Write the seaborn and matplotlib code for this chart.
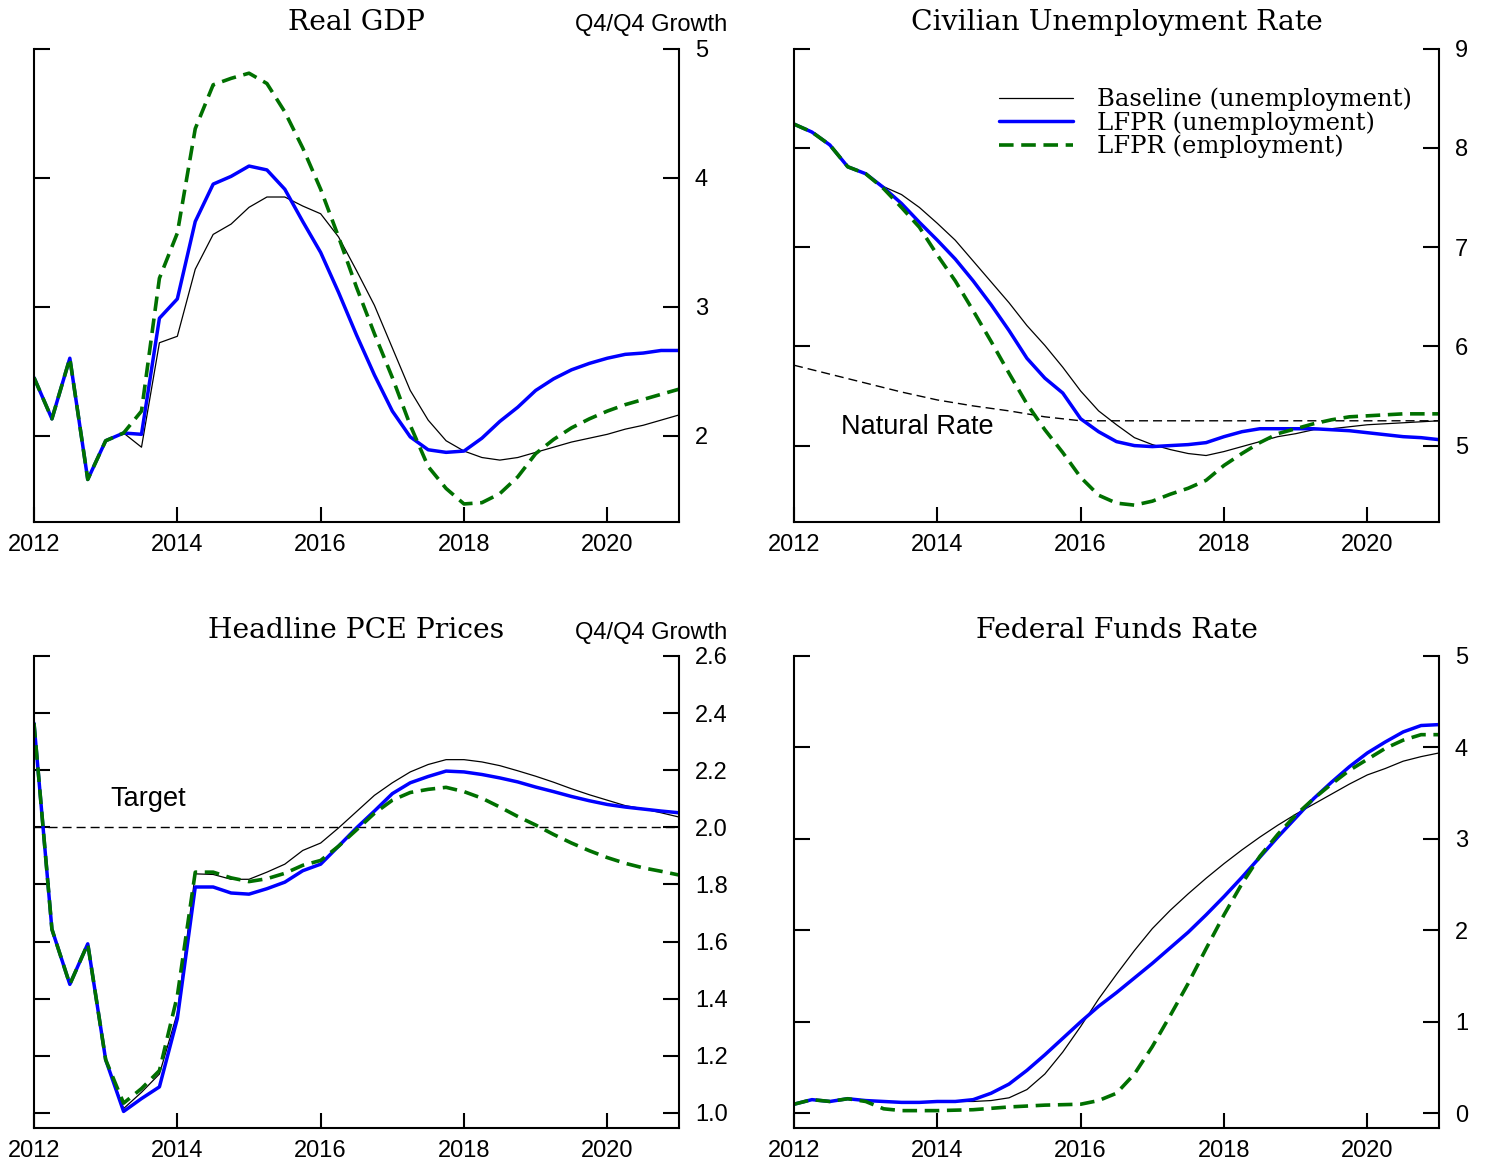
import numpy as np
import matplotlib
matplotlib.use("Agg")
import matplotlib.pyplot as plt
import seaborn as sns
from matplotlib.ticker import FixedLocator, NullLocator

# ---------------- data ----------------
quarters = np.arange(2012.0, 2021.001, 0.25)  # 2012Q1 .. 2021Q1

gdp_base = [2.45, 2.13, 2.60, 1.66, 1.96, 2.02, 1.91, 2.72, 2.77, 3.29,
            3.56, 3.64, 3.77, 3.85, 3.85, 3.78, 3.72, 3.54, 3.28, 3.01,
            2.68, 2.35, 2.12, 1.96, 1.88, 1.83, 1.81, 1.83, 1.87, 1.91,
            1.95, 1.98, 2.01, 2.05, 2.08, 2.12, 2.16]
gdp_lfpr_u = [2.45, 2.13, 2.60, 1.66, 1.96, 2.02, 2.01, 2.91, 3.06, 3.66,
              3.95, 4.01, 4.09, 4.06, 3.91, 3.66, 3.42, 3.11, 2.78, 2.47,
              2.19, 1.99, 1.89, 1.87, 1.88, 1.98, 2.11, 2.22, 2.35, 2.44,
              2.51, 2.56, 2.60, 2.63, 2.64, 2.66, 2.66]
gdp_lfpr_e = [2.45, 2.13, 2.60, 1.66, 1.96, 2.02, 2.19, 3.22, 3.57, 4.38,
              4.72, 4.77, 4.81, 4.73, 4.51, 4.23, 3.91, 3.54, 3.15, 2.79,
              2.45, 2.08, 1.76, 1.59, 1.47, 1.48, 1.55, 1.68, 1.86, 1.97,
              2.06, 2.13, 2.19, 2.24, 2.28, 2.32, 2.36]

un_base = [8.24, 8.16, 8.03, 7.81, 7.74, 7.61, 7.53, 7.40, 7.24, 7.07,
           6.86, 6.65, 6.44, 6.21, 6.01, 5.79, 5.55, 5.35, 5.21, 5.08,
           5.01, 4.96, 4.92, 4.90, 4.94, 4.99, 5.04, 5.09, 5.12, 5.16,
           5.17, 5.19, 5.21, 5.22, 5.23, 5.24, 5.25]
un_lfpr_u = [8.24, 8.16, 8.03, 7.81, 7.74, 7.60, 7.44, 7.25, 7.07, 6.88,
             6.66, 6.42, 6.16, 5.88, 5.68, 5.53, 5.27, 5.14, 5.04, 5.00,
             4.99, 5.00, 5.01, 5.03, 5.09, 5.14, 5.17, 5.17, 5.17, 5.17,
             5.16, 5.15, 5.13, 5.11, 5.09, 5.08, 5.06]
un_lfpr_e = [8.24, 8.16, 8.03, 7.81, 7.74, 7.59, 7.40, 7.20, 6.92, 6.66,
             6.36, 6.05, 5.73, 5.42, 5.16, 4.93, 4.68, 4.50, 4.42, 4.40,
             4.44, 4.51, 4.57, 4.65, 4.80, 4.92, 5.03, 5.12, 5.17, 5.22,
             5.26, 5.29, 5.30, 5.31, 5.32, 5.32, 5.32]
natural_x = [2012.0, 2012.5, 2013.0, 2013.5, 2014.0, 2014.5, 2015.0, 2015.5, 2016.0, 2021.0]
natural_rate = [5.81, 5.72, 5.63, 5.54, 5.46, 5.40, 5.35, 5.29, 5.25, 5.25]

pce_base = [2.365, 1.643, 1.45, 1.592, 1.186, 1.015, 1.072, 1.136, 1.35, 1.837,
            1.835, 1.818, 1.818, 1.843, 1.871, 1.919, 1.945, 1.998, 2.055, 2.112,
            2.156, 2.194, 2.22, 2.237, 2.237, 2.229, 2.216, 2.198, 2.179, 2.158,
            2.135, 2.114, 2.095, 2.076, 2.065, 2.051, 2.036]
pce_lfpr_u = [2.365, 1.643, 1.45, 1.592, 1.186, 1.005, 1.05, 1.091, 1.33, 1.791,
              1.791, 1.77, 1.766, 1.785, 1.808, 1.848, 1.871, 1.934, 1.998, 2.057,
              2.118, 2.156, 2.178, 2.197, 2.194, 2.185, 2.173, 2.159, 2.141, 2.125,
              2.108, 2.093, 2.08, 2.071, 2.064, 2.057, 2.051]
pce_lfpr_e = [2.365, 1.643, 1.45, 1.592, 1.186, 1.034, 1.085, 1.148, 1.41, 1.843,
              1.843, 1.823, 1.81, 1.82, 1.839, 1.867, 1.884, 1.934, 1.991, 2.049,
              2.095, 2.122, 2.133, 2.14, 2.125, 2.102, 2.071, 2.038, 2.008, 1.975,
              1.945, 1.918, 1.894, 1.874, 1.858, 1.846, 1.833]
pce_target = 2.0

ff_base = [0.10, 0.15, 0.13, 0.16, 0.14, 0.13, 0.12, 0.12, 0.13, 0.13,
           0.13, 0.14, 0.17, 0.26, 0.43, 0.67, 0.95, 1.25, 1.52, 1.78,
           2.02, 2.22, 2.40, 2.57, 2.73, 2.88, 3.02, 3.15, 3.27, 3.38,
           3.49, 3.60, 3.70, 3.77, 3.85, 3.90, 3.94]
ff_lfpr_u = [0.10, 0.15, 0.13, 0.16, 0.14, 0.13, 0.12, 0.12, 0.13, 0.13,
             0.15, 0.22, 0.32, 0.47, 0.64, 0.82, 1.00, 1.17, 1.32, 1.48,
             1.64, 1.81, 1.98, 2.17, 2.37, 2.58, 2.80, 3.02, 3.23, 3.44,
             3.62, 3.79, 3.94, 4.06, 4.17, 4.24, 4.25]
ff_lfpr_e = [0.10, 0.15, 0.13, 0.16, 0.13, 0.05, 0.03, 0.03, 0.03, 0.035,
             0.04, 0.055, 0.07, 0.08, 0.09, 0.095, 0.10, 0.14, 0.22, 0.43,
             0.73, 1.07, 1.42, 1.80, 2.17, 2.51, 2.81, 3.05, 3.26, 3.44,
             3.60, 3.75, 3.87, 3.99, 4.08, 4.14, 4.14]

series_labels = ["Baseline (unemployment)", "LFPR (unemployment)", "LFPR (employment)"]
year_ticks = [2012, 2014, 2016, 2018, 2020]
year_labels = ["2012", "2014", "2016", "2018", "2020"]

# ---------------- style ----------------
sns.set_style("ticks")
plt.rcParams["font.family"] = ["Liberation Sans", "DejaVu Sans"]
plt.rcParams["lines.scale_dashes"] = False
plt.rcParams["text.color"] = "black"
plt.rcParams["axes.labelcolor"] = "black"
plt.rcParams["xtick.color"] = "black"
plt.rcParams["ytick.color"] = "black"
plt.rcParams["axes.edgecolor"] = "black"
SERIF = "DejaVu Serif"
BLACK = "#000000"
BLUE = "#0000ff"
GREEN = "#007000"
SANS_SIZE = 17
NOTE_SIZE = 19.5

W, H = 1492, 1169
fig = plt.figure(figsize=(W / 100, H / 100), dpi=100)


def add_axes(l, r, t, b):
    return fig.add_axes([l / W, 1 - b / H, (r - l) / W, (b - t) / H])


def draw_series(ax, base, lu, le):
    sns.lineplot(x=quarters, y=base, ax=ax, color=BLACK, linewidth=0.9, legend=False)
    l0 = ax.lines[-1]
    sns.lineplot(x=quarters, y=lu, ax=ax, color=BLUE, linewidth=2.5, legend=False)
    l1 = ax.lines[-1]
    sns.lineplot(x=quarters, y=le, ax=ax, color=GREEN, linewidth=2.6, legend=False)
    l2 = ax.lines[-1]
    l2.set_dashes((10.5, 5.5))
    l2.set_dash_capstyle("butt")
    return [l0, l1, l2]


def style(ax, ylim, yticks, ylabels, title, unit=None):
    ax.set_xlim(2012, 2021)
    ax.set_ylim(*ylim)
    ax.set_xticks(year_ticks)
    ax.set_xticklabels(year_labels)
    ax.set_yticks(yticks)
    ax.set_yticklabels(ylabels)
    ax.yaxis.set_minor_locator(FixedLocator([ylim[1]]))
    ax.xaxis.set_minor_locator(NullLocator())
    ax.spines["top"].set_visible(False)
    for s in ["left", "right", "bottom"]:
        ax.spines[s].set_linewidth(1.5)
        ax.spines[s].set_color("black")
    ax.tick_params(axis="y", which="major", direction="in", length=11.5, width=1.5,
                   left=True, right=True, labelleft=False, labelright=True,
                   pad=11.5, labelsize=SANS_SIZE, colors="black")
    ax.tick_params(axis="y", which="minor", direction="in", length=21, width=1.5,
                   left=True, right=True)
    ax.tick_params(axis="x", which="major", direction="in", length=11, width=1.5,
                   bottom=True, top=False, pad=8.8, labelsize=SANS_SIZE, colors="black")
    ax.set_xlabel("")
    ax.set_ylabel("")
    h = ax.get_window_extent().height
    ax.text(0.5, 1 + 18.5 / h, title, transform=ax.transAxes, ha="center",
            va="baseline", family=SERIF, fontsize=20.3, color="black")
    if unit:
        ax.text(1 + 48 / 645, 1 + 17.5 / h, unit, transform=ax.transAxes,
                ha="right", va="baseline", fontsize=SANS_SIZE, color="black")


# ---- Real GDP ----
ax = add_axes(34, 679, 48.7, 522)
draw_series(ax, gdp_base, gdp_lfpr_u, gdp_lfpr_e)
style(ax, (1.33, 5), [2, 3, 4, 5], ["2", "3", "4", "5"], "Real GDP", "Q4/Q4 Growth")

# ---- Unemployment ----
ax = add_axes(794, 1439, 48.7, 522)
sns.lineplot(x=natural_x, y=natural_rate, ax=ax, color=BLACK, linewidth=1.0, legend=False)
ax.lines[-1].set_dashes((6.5, 3.6))
handles = draw_series(ax, un_base, un_lfpr_u, un_lfpr_e)
style(ax, (4.23, 9), [5, 6, 7, 8, 9], ["5", "6", "7", "8", "9"], "Civilian Unemployment Rate")
ax.text(2012.656, 5.19, "Natural Rate", ha="left", va="center", fontsize=NOTE_SIZE)
ax.legend(handles=handles, labels=series_labels, loc="upper left",
          bbox_to_anchor=(0.318, 0.918), frameon=False,
          prop={"family": SERIF, "size": 17.5}, handlelength=3.05,
          handletextpad=0.99, labelspacing=0.0, borderpad=0, borderaxespad=0)

# ---- PCE ----
ax = add_axes(34, 679, 656, 1128)
sns.lineplot(x=[2012, 2021], y=[pce_target, pce_target], ax=ax, color=BLACK,
             linewidth=1.0, legend=False)
ax.lines[-1].set_dashes((6.5, 3.6))
draw_series(ax, pce_base, pce_lfpr_u, pce_lfpr_e)
pce_ticks = [1.0, 1.2, 1.4, 1.6, 1.8, 2.0, 2.2, 2.4, 2.6]
style(ax, (0.947, 2.6), pce_ticks, [f"{v:.1f}" for v in pce_ticks],
      "Headline PCE Prices", "Q4/Q4 Growth")
ax.text(2013.06, 2.099, "Target", ha="left", va="center", fontsize=NOTE_SIZE)

# ---- Fed funds ----
ax = add_axes(794, 1439, 656, 1128)
draw_series(ax, ff_base, ff_lfpr_u, ff_lfpr_e)
style(ax, (-0.16, 5), [0, 1, 2, 3, 4, 5], ["0", "1", "2", "3", "4", "5"],
      "Federal Funds Rate")

fig.savefig("out.png", dpi=100)
